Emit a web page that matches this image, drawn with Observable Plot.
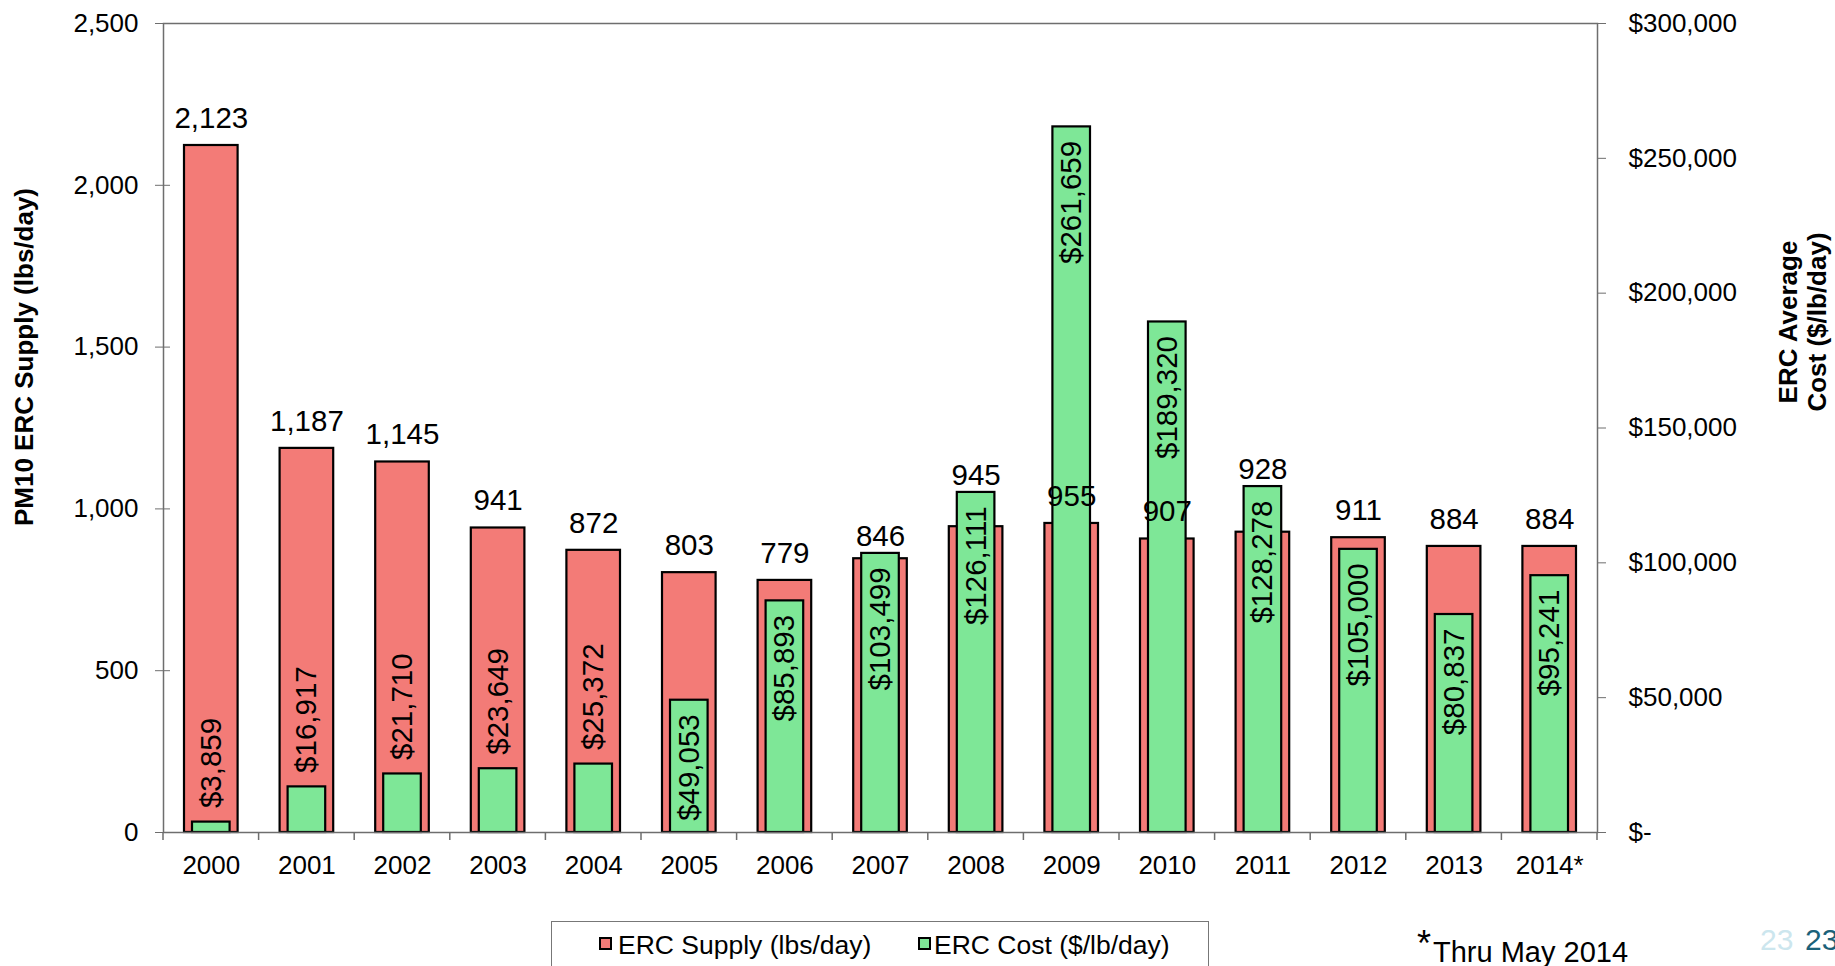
<!DOCTYPE html>
<html>
<head>
<meta charset="utf-8">
<script src="https://cdn.jsdelivr.net/npm/d3@7"></script>
<script src="https://cdn.jsdelivr.net/npm/@observablehq/plot@0.6"></script>
<style>
  body { margin: 0; background: #fff; font-family: Arial, "Liberation Sans", sans-serif; }
  #wrap { position: relative; width: 1835px; height: 966px; overflow: hidden; background: #fff; }
  #chart { position: absolute; left: 0; top: 0; }
  #legend { position: absolute; left: 551px; top: 921px; width: 658px; height: 80px; border: 1px solid #777; box-sizing: border-box; background: #fff; }
  .sw { position: absolute; top: 15px; width: 9px; height: 9px; border: 2px solid #000; }
  .lt { position: absolute; top: 10px; font-size: 26.5px; line-height: 26px; white-space: nowrap; color: #000; }
  .abs { position: absolute; white-space: nowrap; }
</style>
</head>
<body>
<div id="wrap">
  <div id="chart"></div>
  <div id="legend"></div>
  <div class="abs" style="left:1417px;top:926px;font-size:36px;line-height:36px;">*</div>
  <div class="abs" style="left:1433px;top:938px;font-size:29px;line-height:29px;">Thru May 2014</div>
  <div class="abs" style="left:1760px;top:925px;font-size:30px;line-height:30px;color:#cce6ee;">23</div>
  <div class="abs" style="left:1805px;top:925px;font-size:30px;line-height:30px;color:#1b6179;">23</div>
</div>
<script>
// ---- data ----
const years = ["2000","2001","2002","2003","2004","2005","2006","2007","2008","2009","2010","2011","2012","2013","2014*"];
const supply = [2123, 1187, 1145, 941, 872, 803, 779, 846, 945, 955, 907, 928, 911, 884, 884];
const cost = [3859, 16917, 21710, 23649, 25372, 49053, 85893, 103499, 126111, 261659, 189320, 128278, 105000, 80837, 95241];
const leftTicks = [0, 500, 1000, 1500, 2000, 2500];
const rightTicks = [0, 50000, 100000, 150000, 200000, 250000, 300000];
const seriesNames = ["ERC Supply (lbs/day)", "ERC Cost ($/lb/day)"];
const seriesColors = ["#f37b77", "#7ee797"];
const leftTitle = "PM10 ERC Supply (lbs/day)";
const rightTitle = ["ERC Average", "Cost ($/lb/day)"];

const supplyMax = 2500, costMax = 300000;
const ratio = costMax / supplyMax;

const rows = years.map((year, i) => ({year, supply: supply[i], cost: cost[i], costScaled: cost[i] / ratio}));

const fmtNum = d3.format(",");
const fmtDollar = v => v === 0 ? "$-" : "$" + fmtNum(v);

// supply label sits above the green bar when it is only slightly taller
const aboveGreen = d => d.costScaled > d.supply && d.costScaled - d.supply < 300;
const insideCost = d => d.costScaled >= 300;

const W = 1835, H = 900, ML = 163, MR = 238, MT = 23, MB = 68;
const axisGray = "#6e6e6e";

const plot = Plot.plot({
  width: W, height: H,
  marginLeft: ML, marginRight: MR, marginTop: MT, marginBottom: MB,
  style: {fontFamily: "Arial, 'Liberation Sans', sans-serif", background: "white", color: "black", overflow: "visible"},
  x: {domain: years, padding: 0, round: false, label: null},
  y: {domain: [0, supplyMax], label: null},
  marks: [
    Plot.barY(rows, {x: "year", y: "supply", fill: seriesColors[0], stroke: "black", strokeWidth: 2.2, insetLeft: 21, insetRight: 21}),
    Plot.barY(rows, {x: "year", y: "costScaled", fill: seriesColors[1], stroke: "black", strokeWidth: 2.2, insetLeft: 29, insetRight: 29}),
    Plot.frame({stroke: axisGray, strokeWidth: 1.5}),
    Plot.axisY(leftTicks, {anchor: "left", tickSize: 15, dx: 7, tickPadding: 17, tickFormat: fmtNum, fontSize: 26, stroke: axisGray, fill: "black", label: null}),
    Plot.axisY(rightTicks.map(v => v / ratio), {anchor: "right", tickSize: 8, tickPadding: 23, tickFormat: d => fmtDollar(Math.round(d * ratio)), fontSize: 26, stroke: axisGray, fill: "black", label: null}),
    Plot.axisX({tickSize: 0, tickPadding: 23, fontSize: 26, fill: "black", label: null}),
    // supply value labels
    Plot.text(rows.filter(d => !aboveGreen(d)), {x: "year", y: "supply", text: d => fmtNum(d.supply), dy: -27, fontSize: 29.5, lineAnchor: "middle", fill: "black"}),
    Plot.text(rows.filter(aboveGreen), {x: "year", y: "costScaled", text: d => fmtNum(d.supply), dy: -17, fontSize: 29.5, lineAnchor: "middle", fill: "black"}),
    // cost value labels (rotated)
    Plot.text(rows.filter(insideCost), {x: "year", y: "costScaled", text: d => fmtDollar(d.cost), rotate: -90, textAnchor: "end", lineAnchor: "middle", dy: 14, fontSize: 29.5, fill: "black"}),
    Plot.text(rows.filter(d => !insideCost(d)), {x: "year", y: "costScaled", text: d => fmtDollar(d.cost), rotate: -90, textAnchor: "start", lineAnchor: "middle", dy: -14, fontSize: 29.5, fill: "black"})
  ]
});

document.getElementById("chart").appendChild(plot);

// category boundary ticks below the x axis
const svg = d3.select(plot);
const y0 = plot.scale("y").apply(0);
const step = (W - ML - MR) / years.length;
const g = svg.append("g").attr("stroke", axisGray).attr("stroke-width", 1.5);
for (let i = 0; i <= years.length; i++) {
  const x = ML + i * step;
  g.append("line").attr("x1", x).attr("x2", x).attr("y1", y0).attr("y2", y0 + 8);
}

// axis titles
svg.append("text")
  .attr("transform", "translate(33,357) rotate(-90)")
  .attr("text-anchor", "middle")
  .attr("font-size", 26).attr("font-weight", "bold").attr("fill", "black")
  .text(leftTitle);
rightTitle.forEach((t, i) => {
  svg.append("text")
    .attr("transform", `translate(${1797 + i * 29},322) rotate(-90)`)
    .attr("text-anchor", "middle")
    .attr("font-size", 26).attr("font-weight", "bold").attr("fill", "black")
    .text(t);
});

// legend
const legend = document.getElementById("legend");
const swX = [47, 366], txX = [66, 382];
seriesNames.forEach((name, i) => {
  const sw = document.createElement("div");
  sw.className = "sw"; sw.style.left = swX[i] + "px"; sw.style.background = seriesColors[i];
  legend.appendChild(sw);
  const tx = document.createElement("div");
  tx.className = "lt"; tx.style.left = txX[i] + "px"; tx.textContent = name;
  legend.appendChild(tx);
});
</script>
</body>
</html>
